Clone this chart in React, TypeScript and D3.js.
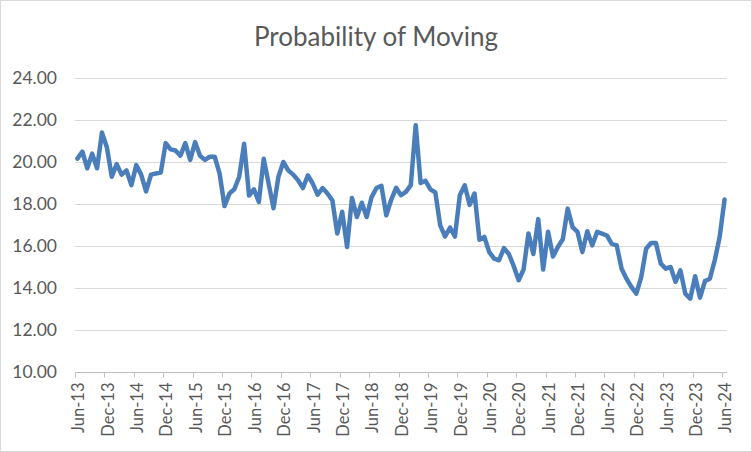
import React, { useEffect, useRef } from 'react';
import * as d3 from 'd3';

const chartTitle = 'Probability of Moving';

const xTickLabels = [
  'Jun-13', 'Dec-13', 'Jun-14', 'Dec-14', 'Jun-15', 'Dec-15', 'Jun-16', 'Dec-16',
  'Jun-17', 'Dec-17', 'Jun-18', 'Dec-18', 'Jun-19', 'Dec-19', 'Jun-20', 'Dec-20',
  'Jun-21', 'Dec-21', 'Jun-22', 'Dec-22', 'Jun-23', 'Dec-23', 'Jun-24',
];

const yTicks = [10, 12, 14, 16, 18, 20, 22, 24];

// Monthly values, Jun-13 .. Jun-24
const movingProbability = [
  20.16, 20.5, 19.7, 20.4, 19.7, 21.4, 20.7, 19.3, 19.9, 19.4, 19.6, 18.9,
  19.85, 19.4, 18.6, 19.4, 19.45, 19.5, 20.9, 20.6, 20.55, 20.3, 20.9, 20.1,
  20.95, 20.3, 20.1, 20.25, 20.25, 19.45, 17.9, 18.5, 18.7, 19.3, 20.87, 18.4,
  18.7, 18.1, 20.15, 18.97, 17.8, 19.3, 20.0, 19.6, 19.4, 19.13, 18.76, 19.37,
  18.97, 18.44, 18.76, 18.5, 18.17, 16.6, 17.63, 15.95, 18.29, 17.38, 18.06, 17.38,
  18.33, 18.76, 18.87, 17.46, 18.2, 18.77, 18.42, 18.58, 18.9, 21.75, 19.0, 19.1,
  18.7, 18.55, 16.98, 16.45, 16.88, 16.45, 18.42, 18.89, 17.96, 18.5, 16.3, 16.43,
  15.71, 15.4, 15.32, 15.9, 15.62, 15.04, 14.37, 14.88, 16.6, 15.62, 17.28, 14.88,
  16.68, 15.5, 15.95, 16.32, 17.78, 16.9, 16.67, 15.71, 16.7, 16.03, 16.67, 16.59,
  16.5, 16.1, 16.03, 14.92, 14.44, 14.05, 13.73, 14.52, 15.87, 16.14, 16.14, 15.16,
  14.92, 15.0, 14.29, 14.84, 13.73, 13.49, 14.56, 13.54, 14.33, 14.44, 15.32, 16.43,
  18.21,
];

const W = 752;
const H = 452;
const FONT = 'Lato, "Open Sans", sans-serif';

export default function App() {
  const ref = useRef<SVGSVGElement | null>(null);

  useEffect(() => {
    document.body.style.margin = '0';
    const svg = d3.select(ref.current);
    svg.selectAll('*').remove();

    const left = 75, right = 727, top = 78, bottom = 372;
    const n = movingProbability.length;
    const x = d3.scaleBand<number>().domain(d3.range(n)).range([left, right]).padding(0);
    const y = d3.scaleLinear().domain([10, 24]).range([bottom, top]);
    const cx = (i: number) => (x(i) as number) + x.bandwidth() / 2;

    svg.append('rect')
      .attr('x', 0.5).attr('y', 0.5).attr('width', W - 1).attr('height', H - 1)
      .attr('fill', '#fff').attr('stroke', '#d9d9d9');

    svg.append('text')
      .attr('x', W / 2).attr('y', 46)
      .attr('text-anchor', 'middle')
      .attr('font-family', FONT).attr('font-size', 26)
      .attr('fill', '#595959')
      .text(chartTitle);

    // gridlines
    svg.append('g').selectAll('line')
      .data(yTicks.filter(t => t !== 10))
      .join('line')
      .attr('x1', left).attr('x2', right)
      .attr('y1', d => Math.round(y(d)) + 0.5).attr('y2', d => Math.round(y(d)) + 0.5)
      .attr('stroke', '#d9d9d9').attr('stroke-width', 1);

    // y labels
    svg.append('g').selectAll('text')
      .data(yTicks)
      .join('text')
      .attr('x', 57).attr('y', d => y(d))
      .attr('dy', '0.35em')
      .attr('text-anchor', 'end')
      .attr('font-family', FONT).attr('font-size', 17.5)
      .attr('fill', '#595959')
      .text(d => d.toFixed(2));

    // x axis line
    const axY = Math.round(y(10)) + 0.5;
    svg.append('line')
      .attr('x1', left).attr('x2', right).attr('y1', axY).attr('y2', axY)
      .attr('stroke', '#bfbfbf');

    const tickIdx = d3.range(0, n, 6);
    svg.append('g').selectAll('line')
      .data(tickIdx)
      .join('line')
      .attr('x1', d => Math.round(x(d) as number) + 0.5)
      .attr('x2', d => Math.round(x(d) as number) + 0.5)
      .attr('y1', axY).attr('y2', axY + 5)
      .attr('stroke', '#bfbfbf');

    svg.append('g').selectAll('text')
      .data(tickIdx)
      .join('text')
      .attr('transform', d => `translate(${cx(d) + 1},${axY + 10}) rotate(-90)`)
      .attr('text-anchor', 'end')
      .attr('dy', '0.35em')
      .attr('font-family', FONT).attr('font-size', 16.5)
      .attr('fill', '#595959')
      .text((d, k) => xTickLabels[k]);

    const line = d3.line<number>()
      .x((d, i) => cx(i))
      .y(d => y(d));

    svg.append('path')
      .datum(movingProbability)
      .attr('d', line)
      .attr('fill', 'none')
      .attr('stroke', '#4a7ebb')
      .attr('stroke-width', 4.5)
      .attr('stroke-linejoin', 'round')
      .attr('stroke-linecap', 'round');
  }, []);

  return (
    <svg ref={ref} width={W} height={H} style={{ display: 'block', position: 'absolute', left: 0, top: 0 }} />
  );
}
